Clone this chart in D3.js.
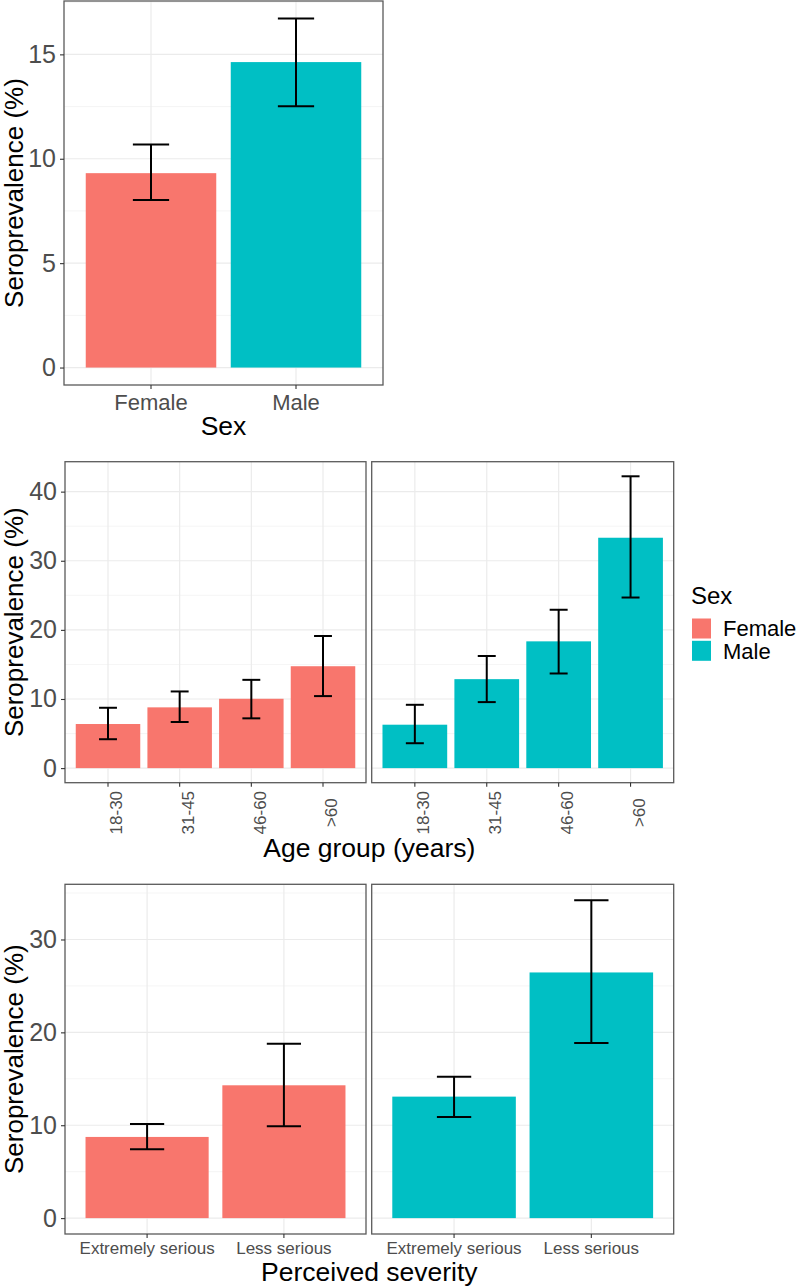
<!DOCTYPE html>
<html><head><meta charset="utf-8">
<script src="https://cdn.jsdelivr.net/npm/d3@7"></script>
<style>body{margin:0;background:#fff}svg{display:block;font-family:"Liberation Sans",Arial,sans-serif}</style>
</head><body><svg id="c" width="800" height="1288"></svg>
<script>
// ---------- data ----------
const sexCats = ["Female", "Male"];
const sexVals = [9.31, 14.63];
const sexLo = [8.02, 12.52];
const sexHi = [10.68, 16.72];
const sexTicks = [0, 5, 10, 15];

const ageCats = ["18-30", "31-45", "46-60", ">60"];
const ageFemale = [6.38, 8.79, 10.03, 14.74];
const ageFemaleLo = [4.18, 6.67, 7.2, 10.42];
const ageFemaleHi = [8.73, 11.09, 12.77, 19.11];
const ageMale = [6.28, 12.87, 18.34, 33.33];
const ageMaleLo = [3.6, 9.55, 13.69, 24.68];
const ageMaleHi = [9.16, 16.22, 22.91, 42.22];
const ageTicks = [0, 10, 20, 30, 40];

const sevCats = ["Extremely serious", "Less serious"];
const sevFemale = [8.74, 14.3];
const sevFemaleLo = [7.42, 9.89];
const sevFemaleHi = [10.14, 18.78];
const sevMale = [13.08, 26.45];
const sevMaleLo = [10.89, 18.85];
const sevMaleHi = [15.23, 34.23];
const sevTicks = [0, 10, 20, 30];

const sexes = ["Female", "Male"];
const colors = ["#F8766D", "#00BFC4"];
const yTitle = "Seroprevalence (%)";

// ---------- drawing ----------
const svg = d3.select("#c");
const color = d3.scaleOrdinal().domain(sexes).range(colors);

function panel(o) {
  const g = svg.append("g");
  const x = d3.scaleBand().domain(o.cats).range([o.x0, o.x1]).paddingInner(0.1).paddingOuter(0.15);
  const y = o.y;
  const minors = [];
  for (let i = 0; i < o.ticks.length - 1; i++) minors.push((o.ticks[i] + o.ticks[i + 1]) / 2);
  const step = o.ticks[1] - o.ticks[0];
  const lastMinor = o.ticks[o.ticks.length - 1] + step / 2;
  if (y(lastMinor) > o.y0) minors.push(lastMinor);
  g.selectAll(".mn").data(minors).join("line")
    .attr("x1", o.x0).attr("x2", o.x1).attr("y1", d => y(d)).attr("y2", d => y(d))
    .attr("stroke", "#f2f2f2").attr("stroke-width", 0.8);
  g.selectAll(".mj").data(o.ticks).join("line")
    .attr("x1", o.x0).attr("x2", o.x1).attr("y1", d => y(d)).attr("y2", d => y(d))
    .attr("stroke", "#ebebeb").attr("stroke-width", 1.2);
  g.selectAll(".vx").data(o.cats).join("line")
    .attr("x1", d => x(d) + x.bandwidth() / 2).attr("x2", d => x(d) + x.bandwidth() / 2)
    .attr("y1", o.y0).attr("y2", o.y1)
    .attr("stroke", "#ebebeb").attr("stroke-width", 1.2);
  g.selectAll(".bar").data(o.cats).join("rect")
    .attr("x", d => x(d)).attr("width", x.bandwidth())
    .attr("y", (d, i) => y(o.vals[i])).attr("height", (d, i) => y(0) - y(o.vals[i]))
    .attr("fill", (d, i) => o.fill(i));
  const cw = x.step() * 0.25 / 2;
  const eb = g.selectAll(".eb").data(o.cats).join("g").attr("stroke", "#000").attr("stroke-width", 2);
  eb.append("line").attr("x1", d => x(d) + x.bandwidth() / 2).attr("x2", d => x(d) + x.bandwidth() / 2)
    .attr("y1", (d, i) => y(o.lo[i])).attr("y2", (d, i) => y(o.hi[i]));
  eb.append("line").attr("x1", d => x(d) + x.bandwidth() / 2 - cw).attr("x2", d => x(d) + x.bandwidth() / 2 + cw)
    .attr("y1", (d, i) => y(o.lo[i])).attr("y2", (d, i) => y(o.lo[i]));
  eb.append("line").attr("x1", d => x(d) + x.bandwidth() / 2 - cw).attr("x2", d => x(d) + x.bandwidth() / 2 + cw)
    .attr("y1", (d, i) => y(o.hi[i])).attr("y2", (d, i) => y(o.hi[i]));
  g.append("rect").attr("x", o.x0).attr("y", o.y0).attr("width", o.x1 - o.x0).attr("height", o.y1 - o.y0)
    .attr("fill", "none").attr("stroke", "#5a5a5a").attr("stroke-width", 1.3);
  if (o.showY) {
    const ya = g.append("g").attr("transform", `translate(${o.x0},0)`)
      .call(d3.axisLeft(y).tickValues(o.ticks).tickSize(4).tickPadding(4).tickFormat(d3.format("d")));
    ya.select(".domain").remove();
    ya.selectAll(".tick line").attr("stroke", "#333").attr("stroke-width", 1.1);
    ya.selectAll(".tick text").attr("fill", "#4d4d4d").style("font-size", "25px")
      .attr("font-family", "Liberation Sans, Arial, sans-serif");
  }
  const xa = g.append("g").attr("transform", `translate(0,${o.y1})`)
    .call(d3.axisBottom(x).tickSize(4).tickPadding(o.pad || 5));
  xa.select(".domain").remove();
  xa.selectAll(".tick line").attr("stroke", "#333").attr("stroke-width", 1.1);
  const tt = xa.selectAll(".tick text").attr("fill", "#4d4d4d").style("font-size", o.tickFont + "px")
    .attr("font-family", "Liberation Sans, Arial, sans-serif");
  if (o.rotate) {
    tt.attr("transform", "rotate(-90)").attr("text-anchor", "middle")
      .attr("x", -(o.rotMid)).attr("y", 2).attr("dy", "0.73em");
  } else {
    tt.attr("dy", "0.71em");
  }
  return x;
}

function yScale(his, y0, y1) {
  const m = d3.max(his);
  return d3.scaleLinear().domain([-0.05 * m, 1.05 * m]).range([y1, y0]);
}

function yTitleText(cy) {
  svg.append("text").attr("transform", `translate(23,${cy}) rotate(-90)`)
    .attr("text-anchor", "middle").style("font-size", "26px").attr("fill", "#000").text(yTitle);
}
function xTitleText(cx, by, t) {
  svg.append("text").attr("x", cx).attr("y", by).attr("text-anchor", "middle")
    .style("font-size", "26.5px").attr("fill", "#000").text(t);
}

// ---- top: Sex ----
{
  const y0 = 1, y1 = 385;
  const y = yScale(sexHi, y0, y1);
  panel({ x0: 64, x1: 383, y0, y1, cats: sexCats, vals: sexVals, lo: sexLo, hi: sexHi,
    fill: i => color(sexCats[i]), y, ticks: sexTicks, showY: true, tickFont: 22 });
  yTitleText((y0 + y1) / 2);
  xTitleText(223.5, 435, "Sex");
}

// ---- middle: Age group faceted by sex ----
{
  const y0 = 461.7, y1 = 782.7;
  const y = yScale(ageFemaleHi.concat(ageMaleHi), y0, y1);
  panel({ x0: 65, x1: 366, y0, y1, cats: ageCats, vals: ageFemale, lo: ageFemaleLo, hi: ageFemaleHi,
    fill: () => color("Female"), y, ticks: ageTicks, showY: true, tickFont: 17, rotate: true, rotMid: 30 });
  panel({ x0: 371.7, x1: 673.7, y0, y1, cats: ageCats, vals: ageMale, lo: ageMaleLo, hi: ageMaleHi,
    fill: () => color("Male"), y, ticks: ageTicks, showY: false, tickFont: 17, rotate: true, rotMid: 30 });
  yTitleText((y0 + y1) / 2);
  xTitleText(369.3, 857, "Age group (years)");

  const lg = svg.append("g");
  lg.append("text").attr("x", 691).attr("y", 604).style("font-size", "24px").attr("fill", "#000").text("Sex");
  sexes.forEach((s, i) => {
    lg.append("rect").attr("x", 692).attr("y", 618.5 + i * 22.3).attr("width", 19).attr("height", 20).attr("fill", color(s));
    lg.append("text").attr("x", 723).attr("y", 636 + i * 22.8).style("font-size", "22px").attr("fill", "#000").text(s);
  });
}

// ---- bottom: Perceived severity faceted by sex ----
{
  const y0 = 884.3, y1 = 1234;
  const y = yScale(sevFemaleHi.concat(sevMaleHi), y0, y1);
  panel({ x0: 65, x1: 366, y0, y1, cats: sevCats, vals: sevFemale, lo: sevFemaleLo, hi: sevFemaleHi,
    fill: () => color("Female"), y, ticks: sevTicks, showY: true, tickFont: 17, pad: 4 });
  panel({ x0: 371.7, x1: 673.7, y0, y1, cats: sevCats, vals: sevMale, lo: sevMaleLo, hi: sevMaleHi,
    fill: () => color("Male"), y, ticks: sevTicks, showY: false, tickFont: 17, pad: 4 });
  yTitleText((y0 + y1) / 2);
  xTitleText(369.3, 1281, "Perceived severity");
}
</script></body></html>
